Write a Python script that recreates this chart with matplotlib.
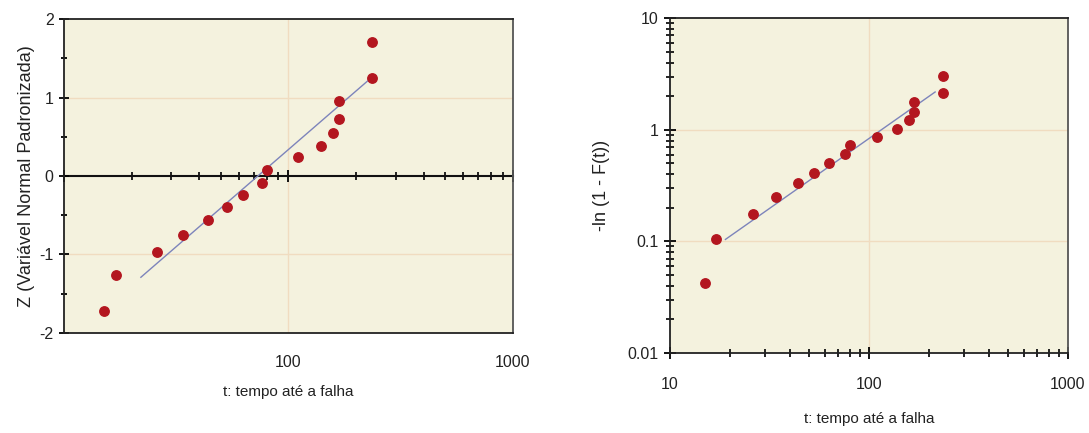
import matplotlib
matplotlib.use('Agg')
import matplotlib.pyplot as plt
from matplotlib.ticker import LogLocator, NullFormatter, NullLocator

plt.rcParams['font.family'] = ['Liberation Sans', 'DejaVu Sans']
plt.rcParams['axes.unicode_minus'] = False

# tempos até a falha (mesmos nos dois gráficos)
t_fail = [15, 17, 26, 34, 44, 53, 63, 76, 80, 110, 139, 158, 168, 168, 236, 236]
# variável normal padronizada
z_vals = [-1.72, -1.26, -0.97, -0.75, -0.56, -0.39, -0.24, -0.09, 0.08,
          0.24, 0.38, 0.55, 0.73, 0.96, 1.25, 1.71]
# -ln(1 - F(t))
h_vals = [0.042, 0.106, 0.174, 0.252, 0.336, 0.413, 0.507, 0.61, 0.73,
          0.866, 1.02, 1.23, 1.45, 1.78, 2.14, 3.03]

# retas ajustadas
fit_t_norm = [22, 225]
fit_z_norm = [-1.29, 1.21]
fit_t_exp = [19, 215]
fit_h_exp = [0.104, 2.18]

x_labels_left = [100, 1000]
x_labels_right = [10, 100, 1000]
y_ticks_left = [-2, -1, 0, 1, 2]
y_ticks_right = [0.01, 0.1, 1, 10]

bg = '#f4f2de'
grid_c = '#f0dcc0'
dot_c = '#b3161f'
line_c = '#7d84bb'
txt_c = '#222222'

fig = plt.figure(figsize=(10.89, 4.33), dpi=100)
ax1 = fig.add_axes([0.0588, 0.231, 0.4122, 0.725])
ax2 = fig.add_axes([0.6152, 0.185, 0.3655, 0.773])

for ax in (ax1, ax2):
    ax.set_facecolor(bg)
    for s in ax.spines.values():
        s.set_linewidth(1.3)
        s.set_color('#222222')
    ax.spines['right'].set_color('#555555')

# ---- gráfico normal ----
ax1.set_xscale('log')
ax1.set_xlim(10, 1000)
ax1.set_ylim(-2, 2)
ax1.axhline(1, color=grid_c, lw=1, zorder=0)
ax1.axhline(-1, color=grid_c, lw=1, zorder=0)
ax1.axvline(100, color=grid_c, lw=1, zorder=0)

ax1.plot(fit_t_norm, fit_z_norm, color=line_c, lw=1, zorder=2)
ax1.plot(t_fail, z_vals, 'o', color=dot_c, ms=6.8, zorder=3)

ax1.set_xticks(x_labels_left)
ax1.set_xticklabels([str(v) for v in x_labels_left])
ax1.xaxis.set_minor_locator(NullLocator())
ax1.tick_params(axis='x', length=0, pad=16, labelsize=11.5, labelcolor=txt_c)
ax1.set_yticks(y_ticks_left)
ax1.set_yticks([-1.5, -0.5, 0.5, 1.5], minor=True)
ax1.tick_params(axis='y', which='major', direction='inout', length=7, width=1.3, pad=4,
                labelsize=11.5, labelcolor=txt_c)
ax1.tick_params(axis='y', which='minor', direction='inout', length=5, width=1.3)

# eixo x desenhado em z = 0
sec = ax1.secondary_xaxis(0.5)
sec.spines['top'].set_linewidth(1.5)
sec.spines['top'].set_color('#111111')
sec.xaxis.set_minor_locator(LogLocator(base=10, subs=range(2, 10)))
sec.xaxis.set_minor_formatter(NullFormatter())
sec.tick_params(which='major', direction='inout', length=9, width=1.3,
                labeltop=False, labelbottom=False)
sec.tick_params(which='minor', direction='inout', length=6, width=1.2,
                labeltop=False, labelbottom=False)

ax1.set_xlabel('t: tempo até a falha', fontsize=11, color=txt_c, labelpad=11)
ax1.set_ylabel('Z (Variável Normal Padronizada)', fontsize=13, color=txt_c, labelpad=3)

# ---- gráfico exponencial ----
ax2.set_xscale('log')
ax2.set_yscale('log')
ax2.set_xlim(10, 1000)
ax2.set_ylim(0.01, 10)
ax2.axhline(1, color=grid_c, lw=1, zorder=0)
ax2.axhline(0.1, color=grid_c, lw=1, zorder=0)
ax2.axvline(100, color=grid_c, lw=1, zorder=0)

ax2.plot(fit_t_exp, fit_h_exp, color=line_c, lw=1, zorder=2)
ax2.plot(t_fail, h_vals, 'o', color=dot_c, ms=6.8, zorder=3)

ax2.set_xticks(x_labels_right)
ax2.set_xticklabels([str(v) for v in x_labels_right])
ax2.set_yticks(y_ticks_right)
ax2.set_yticklabels(['0.01', '0.1', '1', '10'])
for axis in (ax2.xaxis, ax2.yaxis):
    axis.set_minor_locator(LogLocator(base=10, subs=range(2, 10)))
    axis.set_minor_formatter(NullFormatter())
ax2.tick_params(which='major', direction='inout', length=9, width=1.3,
                labelsize=11.5, labelcolor=txt_c)
ax2.tick_params(which='minor', direction='inout', length=6, width=1.2)
ax2.tick_params(axis='x', which='major', pad=13)
ax2.tick_params(axis='y', which='major', pad=4)

ax2.set_xlabel('t: tempo até a falha', fontsize=11, color=txt_c, labelpad=14)
ax2.set_ylabel('-ln (1 - F(t))', fontsize=13, color=txt_c, labelpad=12)

fig.savefig('out.png', dpi=100, facecolor='white')
